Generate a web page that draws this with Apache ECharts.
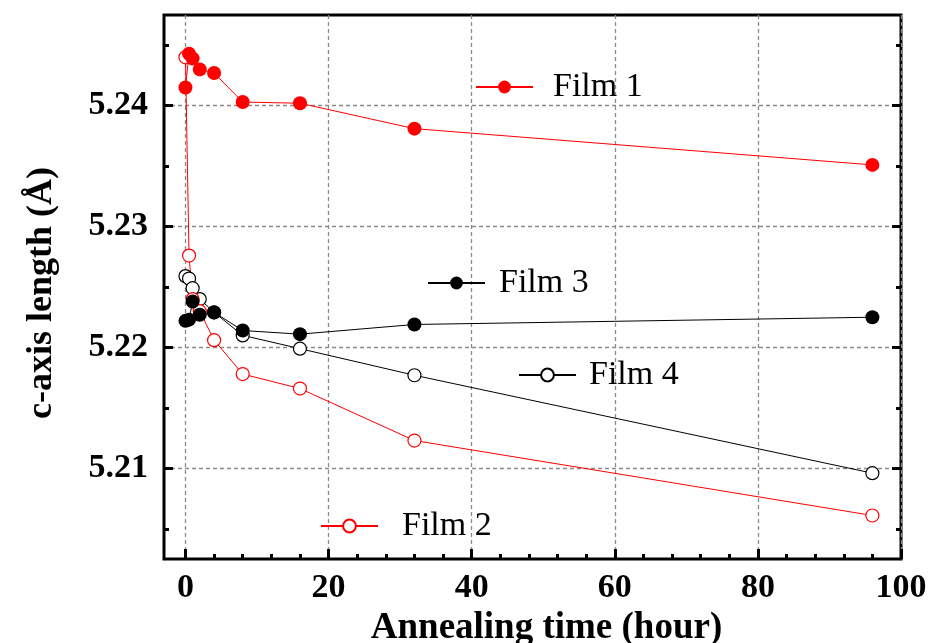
<!DOCTYPE html>
<html>
<head>
<meta charset="utf-8">
<script src="https://cdn.jsdelivr.net/npm/echarts@6/dist/echarts.min.js"></script>
<style>
  html, body { margin: 0; padding: 0; background: #fff; }
  #chart { width: 929px; height: 643px; }
</style>
</head>
<body>
<div id="chart"></div>
<script>
// Annealing times (hours)
const times = [0, 0.5, 1, 2, 4, 8, 16, 32, 96];

// c-axis length (Å) for each film
const film1 = [5.2415, 5.2443, 5.2439, 5.2430, 5.2427, 5.2403, 5.2402, 5.2381, 5.2351];
const film2 = [5.2440, 5.2276, 5.2240, 5.2230, 5.2206, 5.2178, 5.2166, 5.2123, 5.2061];
const film3 = [5.2222, 5.2223, 5.2238, 5.2227, 5.2229, 5.2214, 5.2211, 5.2219, 5.2225];
const film4 = [5.2259, 5.2257, 5.2249, 5.2240, 5.2229, 5.2210, 5.2199, 5.2177, 5.2096];

// Tick values
const xMajorTicks = [0, 20, 40, 60, 80, 100];
const xMinorTicks = [4, 8, 12, 16, 24, 28, 32, 36, 44, 48, 52, 56, 64, 68, 72, 76, 84, 88, 92, 96];
const yMajorTicks = [5.21, 5.22, 5.23, 5.24];
const yMinorTicks = [5.205, 5.215, 5.225, 5.235, 5.245];

const SERIF = '"Liberation Serif", "Times New Roman", serif';
const X_MIN = -3, X_MAX = 100;
const Y_MIN = 5.2025, Y_MAX = 5.2475;

const pairs = (ys) => times.map((t, i) => [t, ys[i]]);

const chart = echarts.init(document.getElementById('chart'), null, { renderer: 'canvas' });

// An axis that only contributes inward ticks at the given values
function tickAxis(base, values, len, extra) {
  return Object.assign({
    type: 'value',
    axisLine: { show: false, onZero: false },
    axisTick: { show: true, inside: true, length: len, customValues: values,
                lineStyle: { color: '#000', width: 3 } },
    axisLabel: { show: false },
    splitLine: { show: false }
  }, base, extra || {});
}

const gridLine = { show: true, lineStyle: { color: '#8a8a8a', width: 1.3, type: [4, 3] } };
const labelStyle = { fontFamily: SERIF, fontWeight: 'bold', fontSize: 34, color: '#000' };

function seriesOf(name, data, color, filled) {
  return {
    name: name,
    type: 'line',
    data: pairs(data),
    symbol: 'circle',
    symbolSize: filled ? 14 : 13,
    showSymbol: true,
    lineStyle: { color: color, width: 1 },
    itemStyle: filled
      ? { color: color, borderWidth: 0 }
      : { color: '#fff', borderColor: color, borderWidth: 1.2 },
    emphasis: { disabled: true },
    animation: false
  };
}

// One in-plot key per film: line + marker sample followed by its name
function legendAt(name, left, centerY, textGap) {
  return {
    data: [name],
    left: left,
    top: centerY - 16,
    orient: 'horizontal',
    padding: 0,
    itemWidth: 57,
    itemHeight: 16,
    selectedMode: false,
    textStyle: { fontFamily: SERIF, fontSize: 34, color: '#000', padding: [0, 0, 0, textGap] }
  };
}

const option = {
  backgroundColor: '#fff',
  animation: false,
  grid: {
    left: 164, right: 28, top: 15, bottom: 84,
    outerBoundsMode: 'none',
    containLabel: false,
    show: true, borderColor: '#000', borderWidth: 3, backgroundColor: 'transparent'
  },
  legend: [
    legendAt('Film 1', 475, 86, 15),
    legendAt('Film 3', 427, 282, 9),
    legendAt('Film 4', 518, 374, 8),
    legendAt('Film 2', 320, 525, 19)
  ],
  xAxis: [
    tickAxis({ min: X_MIN, max: X_MAX, position: 'bottom' }, xMajorTicks, 10, {
      axisLabel: Object.assign({ show: true, customValues: xMajorTicks, margin: 12 }, labelStyle),
      splitLine: gridLine,
      name: 'Annealing time (hour)',
      nameLocation: 'middle',
      nameGap: 44,
      nameTextStyle: { fontFamily: SERIF, fontWeight: 'bold', fontSize: 37, color: '#000',
                       padding: [0, 0, 0, 28] }
    }),
    tickAxis({ min: X_MIN, max: X_MAX, position: 'bottom' }, xMinorTicks, 5),
    tickAxis({ min: X_MIN, max: X_MAX, position: 'top' }, [], 0, { axisTick: { show: false } })
  ],
  yAxis: [
    tickAxis({ min: Y_MIN, max: Y_MAX, position: 'left' }, yMajorTicks, 9, {
      axisLabel: Object.assign({ show: true, customValues: yMajorTicks, margin: 16,
                                 formatter: (v) => v.toFixed(2) }, labelStyle),
      splitLine: gridLine,
      name: 'c-axis length (Å)',
      nameLocation: 'middle',
      nameGap: 104,
      nameTextStyle: { fontFamily: SERIF, fontWeight: 'bold', fontSize: 36, color: '#000',
                       padding: [0, 12, 0, 0] }
    }),
    tickAxis({ min: Y_MIN, max: Y_MAX, position: 'left' }, yMinorTicks, 5),
    tickAxis({ min: Y_MIN, max: Y_MAX, position: 'right' }, yMajorTicks, 9),
    tickAxis({ min: Y_MIN, max: Y_MAX, position: 'right' }, yMinorTicks, 5)
  ],
  series: [
    seriesOf('Film 4', film4, '#000', false),
    seriesOf('Film 2', film2, '#ff0000', false),
    seriesOf('Film 3', film3, '#000', true),
    seriesOf('Film 1', film1, '#ff0000', true)
  ]
};

chart.setOption(option);
</script>
</body>
</html>
